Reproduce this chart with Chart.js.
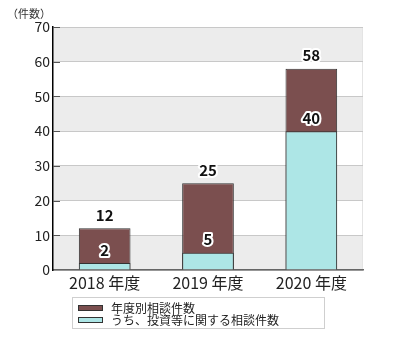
<!DOCTYPE html>
<html>
<head>
<meta charset="utf-8">
<script src="https://cdn.jsdelivr.net/npm/chart.js@4"></script>
<style>
  html, body { margin: 0; padding: 0; background: #fff; }
</style>
</head>
<body>
<canvas id="c" width="400" height="340"></canvas>
<script>
// データ
const years = ['2018 年度', '2019 年度', '2020 年度']
const totalCounts = [12, 25, 58]
const investCounts = [2, 5, 40]
const seriesNames = ['年度別相談件数', 'うち、投資等に関する相談件数']
const yMax = 70
const yStep = 10
const unitLabel = '（件数）'

const FONT = "'Noto Sans CJK JP', 'Noto Sans', sans-serif"
const BROWN = '#7b4f4f'
const CYAN = '#ade6e6'

// 背景の縞模様 + 内向きの目盛り
const bandPlugin = {
  id: 'bands',
  beforeDraw(chart) {
    const { ctx, chartArea } = chart
    const y = chart.scales.y
    ctx.save()
    ctx.fillStyle = '#ececec'
    for (let v = 0; v < yMax; v += yStep * 2) {
      const top = y.getPixelForValue(v + yStep)
      const bottom = y.getPixelForValue(v)
      ctx.fillRect(chartArea.left, top, chartArea.right - chartArea.left, bottom - top)
    }
    // 右端の薄い線
    ctx.strokeStyle = '#e4e4e4'
    ctx.lineWidth = 1
    ctx.beginPath()
    ctx.moveTo(chartArea.right - 0.5, chartArea.top)
    ctx.lineTo(chartArea.right - 0.5, chartArea.bottom)
    ctx.stroke()
    ctx.restore()
  },
  afterDraw(chart) {
    const { ctx, chartArea } = chart
    const y = chart.scales.y
    ctx.save()
    ctx.strokeStyle = '#555'
    ctx.lineWidth = 1
    for (let v = yStep; v <= yMax; v += yStep) {
      const py = Math.round(y.getPixelForValue(v)) + 0.5
      ctx.beginPath()
      ctx.moveTo(chartArea.left, py)
      ctx.lineTo(chartArea.left + 7, py)
      ctx.stroke()
    }
    ctx.restore()
  }
}

// 数値ラベル (白フチ付き)
const valuePlugin = {
  id: 'values',
  afterDatasetsDraw(chart) {
    const { ctx } = chart
    ctx.save()
    ctx.font = 'bold 15px ' + FONT
    ctx.textAlign = 'center'
    ctx.textBaseline = 'middle'
    ctx.lineJoin = 'round'
    chart.data.datasets.forEach((ds, i) => {
      const meta = chart.getDatasetMeta(i)
      meta.data.forEach((bar, j) => {
        const txt = String(ds.data[j])
        const ty = bar.y - 13
        ctx.strokeStyle = '#fff'
        ctx.lineWidth = 4
        ctx.strokeText(txt, bar.x, ty)
        ctx.fillStyle = '#111'
        ctx.fillText(txt, bar.x, ty)
      })
    })
    ctx.restore()
  }
}

// 凡例 + 単位
const legendPlugin = {
  id: 'boxLegend',
  afterDraw(chart) {
    const { ctx } = chart
    ctx.save()
    ctx.strokeStyle = '#cfcfcf'
    ctx.lineWidth = 1
    ctx.strokeRect(72.5, 297.5, 252, 31)
    ctx.font = '12px ' + FONT
    ctx.textBaseline = 'middle'
    chart.data.datasets.forEach((ds, i) => {
      const cy = 308 + i * 12
      ctx.fillStyle = ds.backgroundColor
      ctx.fillRect(78, cy - 3, 25, 6)
      ctx.strokeStyle = '#333'
      ctx.strokeRect(78.5, cy - 2.5, 24, 5)
      ctx.fillStyle = '#222'
      ctx.fillText(ds.label, 111, cy)
    })
    ctx.font = '11px ' + FONT
    ctx.fillStyle = '#333'
    ctx.fillText(unitLabel, 7, 14)
    ctx.restore()
  }
}

new Chart(document.getElementById('c'), {
  type: 'bar',
  data: {
    labels: years,
    datasets: [
      {
        label: seriesNames[0],
        data: totalCounts,
        backgroundColor: BROWN,
        borderColor: '#333',
        borderWidth: 1,
        order: 2
      },
      {
        label: seriesNames[1],
        data: investCounts,
        backgroundColor: CYAN,
        borderColor: '#333',
        borderWidth: 1,
        order: 1
      }
    ]
  },
  options: {
    responsive: false,
    animation: false,
    layout: { padding: { left: 0, top: 27, right: 37, bottom: 40 } },
    datasets: { bar: { categoryPercentage: 1, barPercentage: 0.5 } },
    plugins: {
      legend: { display: false },
      tooltip: { enabled: false }
    },
    scales: {
      x: {
        stacked: true,
        grid: { display: false },
        border: { color: '#666', width: 1.5 },
        ticks: { color: '#222', font: { family: FONT, size: 16 }, padding: -5 },
        afterFit(s) { s.height = 30 }
      },
      y: {
        stacked: false,
        min: 0,
        max: yMax,
        ticks: { stepSize: yStep, color: '#222', font: { family: FONT, size: 14 }, padding: 3 },
        grid: { color: '#c8c8c8', drawTicks: false },
        border: { color: '#000', width: 1.5 },
        afterFit(s) { s.width = 53 }
      }
    }
  },
  plugins: [bandPlugin, valuePlugin, legendPlugin]
})
</script>
</body>
</html>
